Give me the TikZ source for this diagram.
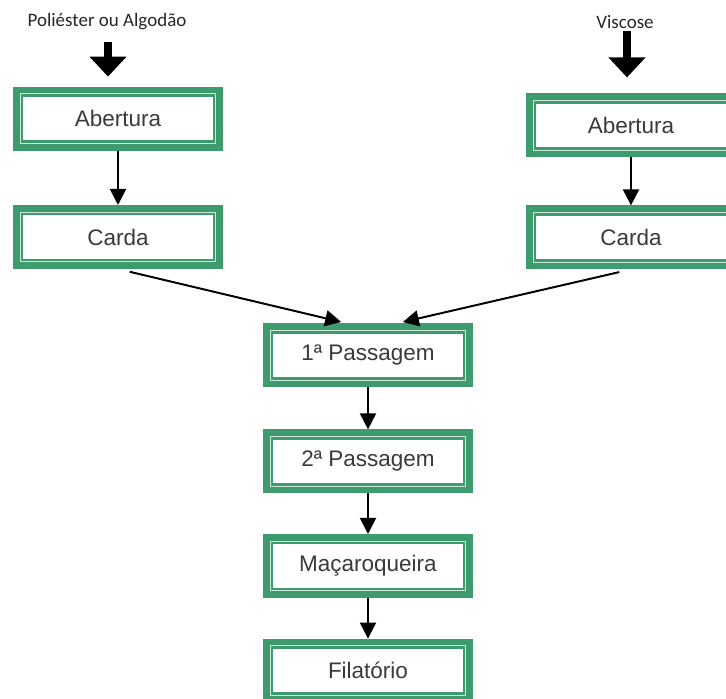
\documentclass[tikz,border=0pt]{standalone}
\usepackage{fontspec}
\setmainfont{Liberation Sans}
\newfontfamily\srcfont{Carlito}
\usepackage{xcolor}
\usepackage{tikz}
\usetikzlibrary{arrows.meta,positioning}
\definecolor{green3}{HTML}{3E9B6E}
\definecolor{text3}{HTML}{3A3A3A}

\begin{document}
\begin{tikzpicture}[
          every node/.style={font=\fontsize{16}{19}\selectfont},
          box/.style={draw=green3,line width=0.17cm,fill=green3!25,text=text3,
                      minimum width=5.08cm,minimum height=1.43cm,inner sep=0pt,
                      path picture={\draw[green3,line width=0.06cm,fill=white]
                        ([shift={(0.14cm,0.14cm)}]path picture bounding box.south west) rectangle
                        ([shift={(-0.14cm,-0.14cm)}]path picture bounding box.north east);}},
          src/.style={font=\srcfont\fontsize{13.5}{16}\selectfont,text=black!85,inner sep=0pt},
          arr/.style={-{Triangle[length=0.4cm,width=0.4cm]},line width=1.4pt},
          bigarr/.style={-{Triangle[length=0.5cm,width=0.9cm]},line width=0.19cm},
      ]
        \useasboundingbox (0,0) rectangle (18.15,17.475);
        \clip (0,0) rectangle (18.15,17.475);

        % the two fibre lines
        \node[src] (srcL) at (2.675,16.925) {Poliéster ou Algodão};
        \node[src] (srcR) at (15.625,16.925) {Viscose};
        \node[box] (abertL) at (2.95,14.51) {Abertura};
        \node[box] (abertR) at (15.775,14.34) {Abertura};
        \node[box] (cardaL) at (2.95,11.55) {Carda};
        \node[box] (cardaR) at (15.775,11.54) {Carda};

        % common line
        \node[box] (pass1) at (9.2,8.59) {1ª Passagem};
        \node[box] (pass2) at (9.2,5.94) {2ª Passagem};
        \node[box] (macaro) at (9.2,3.325) {Maçaroqueira};
        \node[box] (filat) at (9.2,0.71) {Filatório};

        \draw[bigarr,shorten <=0.3cm,shorten >=0.25cm] ([xshift=0.025cm]srcL.south) -- ([xshift=0.025cm]srcL.south |- abertL.north);
        \draw[bigarr,shorten <=0.05cm,shorten >=0.4cm] ([xshift=0.05cm]srcR.south) -- ([xshift=0.05cm]srcR.south |- abertR.north);
        \draw[arr] (abertL) -- (cardaL);
        \draw[arr] (abertR) -- (cardaR);
        \draw[arr,shorten <=0.3cm,shorten >=0.15cm] (cardaL.south) -- ([xshift=-0.525cm]pass1.north);
        \draw[arr,shorten <=0.3cm,shorten >=0.15cm] (cardaR.south) -- ([xshift=0.725cm]pass1.north);
        \draw[arr] (pass1) -- (pass2);
        \draw[arr] (pass2) -- (macaro);
        \draw[arr] (macaro) -- (filat);
      \end{tikzpicture}
\end{document}
